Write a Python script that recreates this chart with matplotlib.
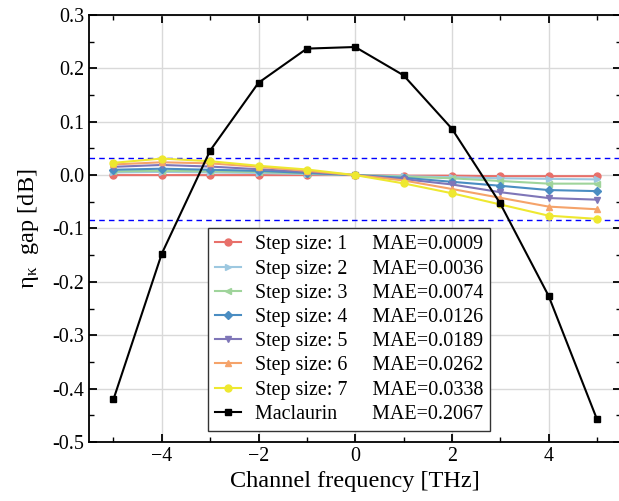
import numpy as np
import matplotlib
matplotlib.use("Agg")
import matplotlib.pyplot as plt
from matplotlib.ticker import MultipleLocator, FormatStrFormatter

plt.rcParams['font.family'] = ['Liberation Serif', 'DejaVu Serif']
plt.rcParams['mathtext.fontset'] = 'stix'

freq = [-5, -4, -3, -2, -1, 0, 1, 2, 3, 4, 5]

step1 = [0.000, 0.000, 0.000, 0.000, 0.000, 0.0, -0.001, -0.001, -0.002, -0.002, -0.002]
step2 = [0.005, 0.006, 0.005, 0.004, 0.002, 0.0, -0.002, -0.004, -0.006, -0.007, -0.008]
step3 = [0.007, 0.008, 0.007, 0.006, 0.003, 0.0, -0.003, -0.006, -0.011, -0.016, -0.016]
step4 = [0.010, 0.012, 0.010, 0.008, 0.004, 0.0, -0.005, -0.0125, -0.020, -0.028, -0.030]
step5 = [0.0155, 0.019, 0.016, 0.011, 0.006, 0.0, -0.0075, -0.0175, -0.032, -0.043, -0.046]
step6 = [0.020, 0.024, 0.022, 0.0155, 0.008, 0.0, -0.010, -0.026, -0.0425, -0.059, -0.064]
step7 = [0.023, 0.031, 0.026, 0.0175, 0.0105, 0.0, -0.0155, -0.034, -0.055, -0.076, -0.082]
maclaurin = [-0.420, -0.147, 0.046, 0.173, 0.237, 0.240, 0.187, 0.087, -0.053, -0.226, -0.457]

mae = ['0.0009', '0.0036', '0.0074', '0.0126', '0.0189', '0.0262', '0.0338', '0.2067']
bounds = [0.032, -0.084]

steps = [step1, step2, step3, step4, step5, step6, step7]
colors = ['#E8706A', '#9DC8E0', '#9FD49B', '#4A8DC2', '#7F76B8', '#F5A36A', '#EEE830']
markers = ['o', '>', '<', 'D', 'v', '^', 'o']
msizes = [5, 5, 5, 4.5, 5, 5, 5]

fig = plt.figure(figsize=(6.19, 5.01), dpi=100)
ax = fig.add_axes([0.1443, 0.1178, 0.859, 0.8523])

for i, s in enumerate(steps):
    ax.plot(freq, s, color=colors[i], marker=markers[i], markersize=msizes[i], lw=1.5,
            label='Step size: %d     MAE=%s' % (i + 1, mae[i]), zorder=3)
ax.plot(freq, maclaurin, color='black', marker='s', markersize=4.5, lw=1.5,
        label='Maclaurin       MAE=%s' % mae[7], zorder=4)

for b in bounds:
    ax.axhline(b, color='#0000FF', ls=(0, (4, 3)), lw=1.0, zorder=2)

ax.set_xlim(-5.5, 5.5)
ax.set_ylim(-0.5, 0.3)
ax.xaxis.set_major_locator(MultipleLocator(2))
ax.xaxis.set_minor_locator(MultipleLocator(1))
ax.yaxis.set_major_locator(MultipleLocator(0.1))
ax.yaxis.set_minor_locator(MultipleLocator(0.05))
ax.yaxis.set_major_formatter(FormatStrFormatter('%.1f'))
ax.tick_params(which='both', direction='in', top=True, right=True, labelsize=14.4)
ax.tick_params(which='major', length=6, width=1.3)
ax.tick_params(which='minor', length=3.5, width=1.0)
ax.grid(True, which='major', color='#D9D9D9', lw=1.0, zorder=0)
ax.set_axisbelow(True)
for sp in ax.spines.values():
    sp.set_linewidth(1.3)

ax.set_xlabel('Channel frequency [THz]', fontsize=17.5, labelpad=4)
ax.set_ylabel('η$_{\\mathregular{κ}}$  gap [dB]', fontsize=17.5, labelpad=8)

leg = ax.legend(loc='lower left', bbox_to_anchor=(0.223, 0.026), borderaxespad=0,
                fontsize=14.4, handlelength=1.3, labelspacing=0.26, fancybox=False,
                framealpha=1, edgecolor='#333333', borderpad=0.35, handletextpad=0.7)
leg.get_frame().set_linewidth(1.0)

fig.savefig('out.png', dpi=100)
